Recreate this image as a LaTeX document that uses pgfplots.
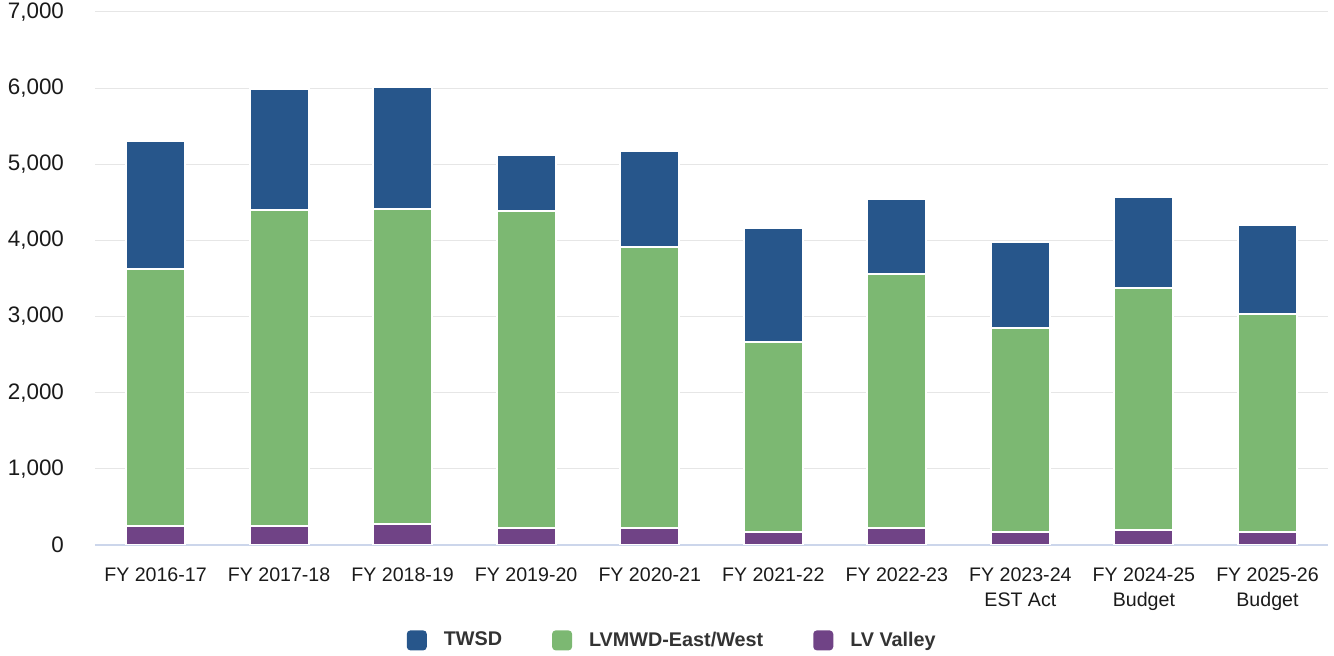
\documentclass[border=0pt]{standalone}
\usepackage{fontspec}
\setmainfont{Liberation Sans}
\usepackage{xcolor}
\usepackage{pgfplots}
\pgfplotsset{compat=1.18}
\definecolor{twsd}{HTML}{27568B}
\definecolor{lvmwd}{HTML}{7CB872}
\definecolor{lvvalley}{HTML}{704386}
\definecolor{gridgray}{HTML}{E6E6E6}
\definecolor{baseline}{HTML}{CCD6EB}
\definecolor{labeltext}{HTML}{1A1A1A}
\definecolor{legendtext}{HTML}{333333}

\begin{document}
\begin{tikzpicture}
\begin{axis}[
    ybar stacked,
    scale only axis,
    width=616.5pt, height=266.5pt,
    bar width=29.5pt,
    xmin=-0.49, xmax=9.49,
    ymin=0, ymax=7000,
    ytick distance=1000,
    xtick=data,
    xticklabels={FY 2016-17,FY 2017-18,FY 2018-19,FY 2019-20,FY 2020-21,FY 2021-22,FY 2022-23,{FY 2023-24\\EST Act},{FY 2024-25\\Budget},{FY 2025-26\\Budget}},
    axis y line*=left,
    y axis line style={draw=none},
    axis x line*=bottom,
    x axis line style={-, draw=baseline, line width=1pt},
    major tick length=0pt,
    ymajorgrids, major grid style={draw=gridgray, line width=0.5pt},
    /pgf/number format/assume math mode=true,
    /pgf/number format/1000 sep={,},
    yticklabel style={font=\fontsize{11.2}{13}\selectfont, text=labeltext, xshift=-12pt},
    xticklabel style={font=\fontsize{9.8}{12.5}\selectfont, text=labeltext, align=center, anchor=north, yshift=-8pt},
    tick style={draw=none},
    legend columns=3,
    reverse legend,
    legend style={at={(0.469,-0.179)}, anchor=center, draw=none, fill=none,
        font=\bfseries\fontsize{9.9}{11}\selectfont, text=legendtext,
        /tikz/every odd column/.append style={column sep=6.5pt},
        /tikz/every even column/.append style={column sep=23pt}},
    legend image code/.code={\fill[#1, draw=none, rounded corners=1.8pt] (0pt,-5pt) rectangle (10pt,5pt);},
    legend cell align=left,
]
\addplot[fill=lvvalley, draw=white, line width=1pt] coordinates {
(0,250) (1,250) (2,277) (3,224) (4,224) (5,171) (6,224) (7,171) (8,198) (9,171)};
\addlegendentry{LV Valley}
\addplot[fill=lvmwd, draw=white, line width=1pt] coordinates {
(0,3380) (1,4146) (2,4141) (3,4168) (4,3696) (5,2495) (6,3329) (7,2678) (8,3174) (9,2858)};
\addlegendentry{LVMWD-East/West}
\addplot[fill=twsd, draw=white, line width=1pt] coordinates {
(0,1680) (1,1596) (2,1600) (3,735) (4,1259) (5,1491) (6,997) (7,1125) (8,1204) (9,1180)};
\addlegendentry{TWSD}
\end{axis}
\pgfresetboundingbox
\path (-47.5pt,-55.5pt) rectangle (619.5pt,272.5pt);
\end{tikzpicture}
\end{document}
